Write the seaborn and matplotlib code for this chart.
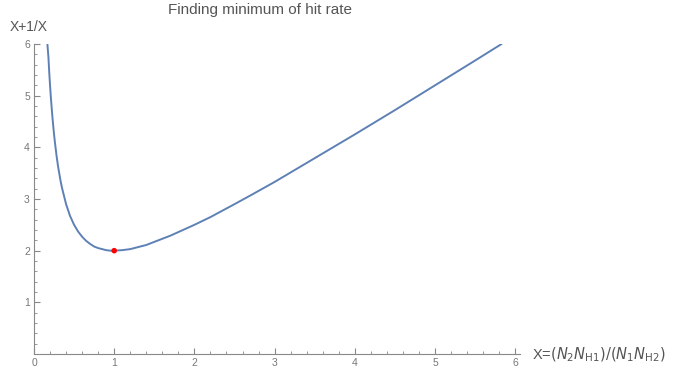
import matplotlib
matplotlib.use("Agg")
import matplotlib.pyplot as plt
import seaborn as sns
import pandas as pd
from matplotlib.ticker import MultipleLocator

# values
x_vals = [0.167, 0.18, 0.19, 0.2, 0.21, 0.22, 0.23, 0.25, 0.26, 0.28, 0.3, 0.33, 0.35, 0.4, 0.45,
          0.5, 0.55, 0.6, 0.65, 0.7, 0.75, 0.8, 0.85, 0.9, 0.95, 1.0, 1.1, 1.2, 1.3, 1.4, 1.5,
          1.6, 1.7, 1.8, 2.0, 2.2, 2.5, 2.7, 3.0, 3.5, 4.0, 4.5, 5.0, 5.5, 5.83]
y_vals = [6.0, 5.74, 5.45, 5.2, 4.97, 4.77, 4.58, 4.25, 4.11, 3.85, 3.63, 3.36, 3.21, 2.9, 2.67,
          2.5, 2.37, 2.27, 2.19, 2.13, 2.08, 2.05, 2.03, 2.01, 2.0, 2.0, 2.01, 2.03, 2.07, 2.11, 2.17,
          2.23, 2.29, 2.36, 2.5, 2.65, 2.9, 3.07, 3.33, 3.79, 4.25, 4.72, 5.2, 5.68, 6.0]
min_x = [1.0]
min_y = [2.0]
x_ticks = [0, 1, 2, 3, 4, 5, 6]
y_ticks = [1, 2, 3, 4, 5, 6]

sns.set_style("white")
plt.rcParams['font.family'] = ['Liberation Sans', 'DejaVu Sans']

df = pd.DataFrame({"x": x_vals, "y": y_vals})
dm = pd.DataFrame({"x": min_x, "y": min_y})

fig = plt.figure(figsize=(6.75, 3.77), dpi=100)
ax = fig.add_axes([34/675, 23/377, 486/675, 310/377])

sns.lineplot(data=df, x="x", y="y", ax=ax, color="#5E81B5", linewidth=1.4, sort=False)
sns.scatterplot(data=dm, x="x", y="y", ax=ax, color="red", s=16, edgecolor="none", zorder=5)

ax.set_xlim(0, 6.06)
ax.set_ylim(0, 6)
ax.set_xticks(x_ticks)
ax.set_yticks(y_ticks)
ax.xaxis.set_minor_locator(MultipleLocator(0.2))
ax.yaxis.set_minor_locator(MultipleLocator(0.2))
ax.tick_params(which="major", direction="in", length=4, width=0.8, color="#888888",
               labelsize=7.5, labelcolor="#777777", pad=3)
ax.tick_params(which="minor", direction="in", length=2, width=0.6, color="#888888")
ax.tick_params(axis="x", which="both", bottom=True)
ax.tick_params(axis="y", which="both", left=True)
for s in ["top", "right"]:
    ax.spines[s].set_visible(False)
for s in ["left", "bottom"]:
    ax.spines[s].set_color("#888888")
    ax.spines[s].set_linewidth(0.8)
ax.set_xlabel("")
ax.set_ylabel("")

fig.text(260/675, 1 - 10/377, "Finding minimum of hit rate", ha="center", va="center",
         fontsize=11, color="#555555")
fig.text(10/675, 1 - 27/377, "X+1/X", ha="left", va="center", fontsize=10, color="#555555")
fig.text(532/675, 1 - 355/377, r"X=$(N_2N_{\rm H1})/(N_1N_{\rm H2})$", ha="left", va="center",
         fontsize=10.5, color="#555555")

fig.savefig("out.png", dpi=100)
